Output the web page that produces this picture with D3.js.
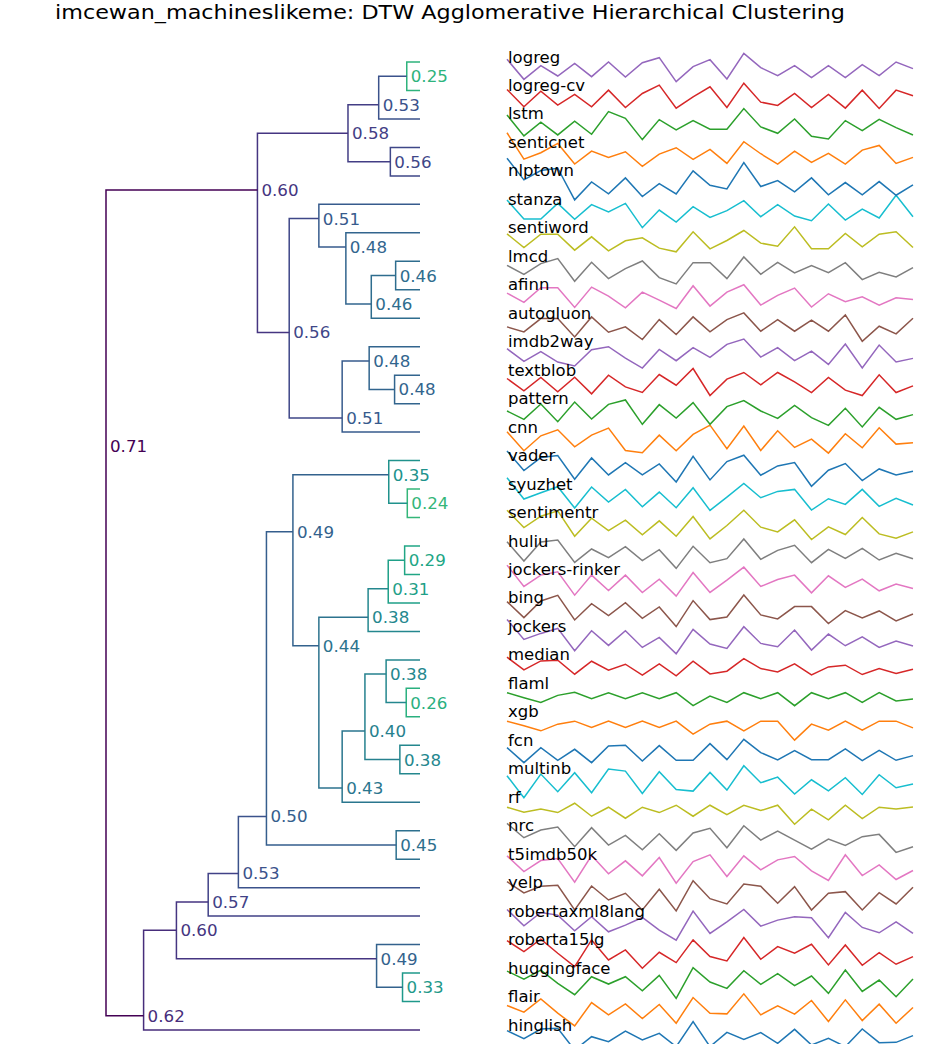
<!DOCTYPE html>
<html><head><meta charset="utf-8">
<script src="https://cdn.jsdelivr.net/npm/d3@7"></script>
<style>body{margin:0;background:#fff} svg{display:block} text{font-family:"DejaVu Sans",sans-serif}</style>
</head><body><svg id="c" width="930" height="1044"></svg>
<script>
const titleText = "imcewan_machineslikeme: DTW Agglomerative Hierarchical Clustering";
const leafNames = ["logreg","logreg-cv","lstm","senticnet","nlptown","stanza","sentiword","lmcd","afinn","autogluon","imdb2way","textblob","pattern","cnn","vader","syuzhet","sentimentr","huliu","jockers-rinker","bing","jockers","median","flaml","xgb","fcn","multinb","rf","nrc","t5imdb50k","yelp","robertaxml8lang","roberta15lg","huggingface","flair","hinglish"];
// linkage: [upper child, lower child, merge distance]; ids >= 35 refer to earlier merges
const merges = [
 [0,1,0.25],[35,2,0.53],[3,4,0.56],[36,37,0.58],[7,8,0.46],[39,9,0.46],[6,40,0.48],[5,41,0.51],
 [11,12,0.48],[10,43,0.48],[44,13,0.51],[42,45,0.56],[38,46,0.60],
 [15,16,0.24],[14,48,0.35],[17,18,0.29],[50,19,0.31],[51,20,0.38],[22,23,0.26],[21,53,0.38],
 [24,25,0.38],[54,55,0.40],[56,26,0.43],[52,57,0.44],[49,58,0.49],[27,28,0.45],[59,60,0.50],
 [61,29,0.53],[62,30,0.57],[32,33,0.33],[31,64,0.49],[63,65,0.60],[66,34,0.62],[47,67,0.71]
];
const s_logreg = [0.23,-0.37,0.04,-0.27,0.11,-0.29,0.15,-0.30,0.13,0.28,-0.44,0.01,0.22,-0.36,0.41,-0.02,-0.26,0.04,-0.32,0.04,-0.32,0.07,-0.26,0.15,-0.05];
const s_logregcv = [0.18,-0.34,0.13,-0.29,0.03,-0.34,0.16,-0.36,0.06,0.31,-0.38,-0.04,0.26,-0.36,0.37,-0.20,-0.30,0.06,-0.36,0.03,-0.38,0.16,-0.39,0.16,-0.01];
const s_lstm = [0.27,-0.36,0.05,-0.33,0.08,-0.31,0.37,0.17,-0.47,0.13,-0.18,0.10,-0.16,-0.16,0.46,-0.09,-0.28,0.15,-0.37,-0.45,0.10,-0.20,0.14,-0.11,-0.33];
const s_senticnet = [0.59,-0.20,-0.01,0.27,-0.35,0.04,-0.15,0.02,-0.42,-0.05,0.14,-0.21,0.09,-0.33,0.32,-0.04,-0.35,0.04,-0.30,-0.03,-0.35,0.07,0.21,-0.33,-0.15];
const s_nlptown = [0.68,0.03,0.31,0.38,-0.57,-0.03,-0.39,0.09,-0.47,-0.08,-0.39,0.30,-0.13,-0.24,0.55,-0.17,0.01,-0.33,0.09,-0.42,-0.05,-0.42,-0.02,-0.43,-0.12];
const s_stanza = [0.28,-0.29,-0.29,0.18,-0.30,0.14,-0.08,0.18,-0.55,-0.02,-0.38,0.08,-0.24,-0.04,0.26,-0.22,0.14,-0.20,-0.34,0.16,-0.32,0.01,-0.26,0.42,-0.22];
const s_sentiword = [0.12,-0.29,0.11,0.11,-0.37,0.03,-0.39,-0.09,0.00,-0.31,-0.42,0.18,-0.33,-0.08,0.22,-0.16,-0.25,0.33,-0.33,-0.33,0.13,-0.27,0.11,0.18,-0.29];
const s_lmcd = [0.03,-0.24,0.08,0.23,-0.45,0.12,-0.37,-0.07,0.16,-0.34,-0.53,0.11,0.11,-0.37,0.28,-0.24,0.12,-0.20,0.02,-0.19,0.11,-0.40,-0.18,-0.32,-0.04];
const s_afinn = [0.05,-0.23,0.21,0.21,-0.38,0.23,-0.04,-0.39,0.08,-0.16,-0.41,0.27,-0.34,0.08,0.30,-0.31,-0.02,0.20,-0.37,0.03,-0.21,-0.06,-0.31,-0.09,-0.14];
const s_autogluon = [-0.11,-0.26,0.14,0.14,-0.41,0.19,-0.27,-0.11,-0.49,0.11,-0.34,0.19,-0.26,0.11,0.31,-0.24,0.11,-0.24,0.09,-0.24,0.25,-0.54,-0.09,-0.32,0.15];
const s_imdb2way = [0.09,-0.29,0.00,-0.31,-0.43,0.06,0.15,-0.19,-0.49,0.07,-0.27,0.12,-0.17,0.22,0.38,-0.16,0.12,-0.27,0.02,-0.38,0.23,-0.49,0.20,-0.31,-0.20];
const s_textblob = [0.05,-0.32,0.08,-0.35,0.09,-0.41,0.15,-0.20,-0.37,0.17,-0.15,0.35,-0.46,0.03,0.23,-0.14,0.23,-0.05,-0.37,0.08,-0.30,-0.46,0.16,-0.37,-0.17];
const s_pattern = [-0.07,-0.32,0.14,-0.39,0.20,-0.31,0.13,0.26,-0.47,0.12,-0.28,0.18,-0.47,0.06,0.24,-0.07,-0.29,0.10,-0.27,-0.50,0.01,-0.55,0.04,-0.32,-0.18];
const s_cnn = [0.16,-0.41,0.04,0.22,-0.29,0.06,0.27,-0.40,-0.47,0.06,-0.41,0.08,0.36,-0.35,0.33,-0.40,0.19,-0.31,-0.06,-0.48,0.10,-0.32,0.28,-0.21,-0.17];
const s_vader = [0.44,-0.15,0.24,0.30,-0.41,0.23,-0.28,0.09,-0.28,0.05,-0.49,0.28,-0.43,0.12,0.31,-0.29,-0.01,0.09,-0.62,-0.14,0.06,-0.45,-0.10,-0.28,-0.17];
const s_syuzhet = [0.49,-0.15,0.04,0.22,-0.42,0.21,-0.24,0.14,-0.38,0.06,-0.41,0.19,-0.49,-0.09,0.32,-0.11,0.08,0.14,-0.48,-0.14,-0.31,0.14,-0.37,-0.13,-0.33];
const s_sentimentr = [0.37,-0.15,0.19,0.35,-0.41,0.13,-0.24,0.07,-0.37,0.05,-0.41,0.18,-0.49,-0.09,0.37,-0.14,-0.28,0.08,-0.51,-0.13,-0.36,0.15,-0.34,-0.47,-0.28];
const s_huliu = [0.28,-0.30,0.27,0.33,-0.34,0.06,-0.20,0.13,-0.29,0.04,-0.52,0.14,-0.35,-0.23,0.36,-0.25,0.02,0.17,-0.35,0.05,-0.22,0.08,-0.27,-0.07,-0.23];
const s_jockersrinker = [0.43,-0.21,0.13,0.23,-0.47,0.13,-0.33,0.13,-0.39,0.01,-0.50,0.21,-0.39,-0.02,0.37,-0.21,0.00,0.13,-0.40,0.11,-0.24,0.01,-0.34,-0.14,-0.27];
const s_bing = [0.19,-0.29,0.21,0.38,-0.36,0.13,-0.23,0.16,-0.31,0.03,-0.56,0.22,-0.35,-0.27,0.39,-0.21,-0.33,0.04,0.04,-0.47,-0.08,-0.30,-0.09,-0.39,-0.18];
const s_jockers = [0.51,-0.09,0.09,0.24,-0.43,0.17,-0.27,0.17,-0.33,-0.03,-0.52,0.21,-0.23,-0.36,0.29,-0.21,-0.31,0.19,-0.41,0.07,-0.28,-0.01,-0.33,-0.14,-0.29];
const s_median = [0.23,-0.15,0.12,0.14,-0.28,0.11,-0.16,0.02,-0.31,0.03,-0.33,0.11,-0.27,-0.19,0.19,-0.11,-0.21,0.03,-0.30,-0.06,-0.01,-0.29,-0.11,-0.26,-0.13];
const s_flaml = [0.02,-0.13,-0.27,-0.06,0.03,-0.16,0.02,-0.16,0.02,-0.16,0.02,-0.37,-0.08,-0.27,0.02,-0.16,0.02,-0.37,0.02,-0.16,0.02,-0.27,0.02,-0.23,-0.17];
const s_xgb = [0.02,-0.12,-0.27,-0.07,0.02,-0.17,0.02,-0.17,0.02,-0.17,0.02,-0.37,-0.07,0.02,-0.27,0.02,0.02,-0.55,-0.07,-0.25,0.02,-0.25,0.02,0.02,-0.18];
const s_fcn = [0.08,-0.37,0.08,-0.30,0.03,-0.37,0.13,0.15,-0.32,0.14,-0.30,-0.30,0.20,-0.28,0.33,-0.07,-0.29,-0.01,-0.28,-0.28,0.04,-0.31,0.00,-0.30,-0.16];
const s_multinb = [0.09,-0.57,0.14,-0.39,0.18,-0.42,0.29,0.23,-0.44,0.21,-0.32,-0.37,0.19,-0.34,0.39,-0.12,0.05,-0.46,-0.03,-0.36,0.03,-0.47,0.12,-0.27,-0.16];
const s_rf = [0.00,-0.15,-0.05,-0.16,0.12,-0.27,0.00,-0.33,0.00,-0.16,0.06,-0.27,0.06,-0.22,0.06,-0.10,0.06,-0.51,-0.06,-0.38,0.06,-0.34,0.00,-0.05,0.01];
const s_nrc = [0.37,-0.06,0.17,0.26,-0.33,0.24,-0.28,0.01,-0.42,0.06,-0.44,0.08,0.22,-0.36,0.30,-0.13,0.14,-0.13,-0.40,-0.10,-0.29,-0.03,0.04,-0.50,-0.33];
const s_t5imdb50k = [0.25,-0.22,0.11,0.17,-0.54,0.26,-0.29,0.10,-0.35,0.20,-0.57,0.08,0.28,-0.37,0.25,-0.17,0.13,0.23,-0.20,-0.49,0.28,-0.34,-0.02,-0.46,-0.19];
const s_yelp = [0.33,-0.01,0.19,0.22,-0.52,0.20,-0.22,-0.02,-0.52,0.10,-0.55,0.36,-0.18,-0.34,0.26,0.19,-0.32,0.18,-0.52,-0.02,0.03,-0.52,0.00,-0.34,0.16];
const s_robertaxml8lang = [0.35,-0.14,0.26,0.18,-0.29,0.13,-0.32,-0.12,0.11,-0.27,-0.57,0.30,-0.37,-0.02,0.35,-0.15,0.03,0.13,0.10,-0.50,0.26,-0.19,-0.35,-0.02,-0.37];
const s_roberta15lg = [0.27,-0.06,0.31,-0.11,-0.51,0.29,-0.31,-0.01,-0.56,-0.08,-0.39,0.29,-0.21,-0.34,0.36,-0.29,0.09,-0.11,0.16,-0.46,0.14,-0.47,-0.09,-0.44,-0.21];
const s_huggingface = [0.21,-0.03,0.24,-0.16,-0.50,0.04,-0.18,0.04,-0.38,0.08,-0.61,0.31,-0.12,-0.31,0.22,-0.19,0.13,-0.23,0.06,-0.46,0.24,-0.40,-0.06,-0.56,-0.03];
const s_flair = [0.03,-0.17,0.23,-0.20,-0.58,0.12,-0.25,0.08,-0.36,0.06,-0.50,0.27,-0.20,-0.22,0.38,-0.25,0.02,-0.23,0.18,-0.45,0.20,-0.42,0.07,-0.50,-0.03];
const s_hinglish = [0.13,-0.11,0.18,0.20,-0.45,-0.05,-0.20,0.12,-0.15,0.05,-0.35,0.40,-0.35,0.08,-0.13,0.07,-0.25,0.17,-0.30,-0.10,-0.35,0.18,-0.23,-0.22,-0.02];
const seriesValues = [s_logreg,s_logregcv,s_lstm,s_senticnet,s_nlptown,s_stanza,s_sentiword,s_lmcd,s_afinn,s_autogluon,s_imdb2way,s_textblob,s_pattern,s_cnn,s_vader,s_syuzhet,s_sentimentr,s_huliu,s_jockersrinker,s_bing,s_jockers,s_median,s_flaml,s_xgb,s_fcn,s_multinb,s_rf,s_nrc,s_t5imdb50k,s_yelp,s_robertaxml8lang,s_roberta15lg,s_huggingface,s_flair,s_hinglish];

const svg = d3.select("#c");
const n = leafNames.length;
const yLeaf = d3.scaleLinear().domain([0, n - 1]).range([62, 1030]);

// build tree
const nodes = leafNames.map((name, i) => ({id: i, leaf: true, last: i, pos: i, h: 0}));
merges.forEach(([a, b, d]) => {
  const A = nodes[a], B = nodes[b];
  nodes.push({leaf: false, A, B, d, h: Math.max(A.h, B.h) + d, last: B.last, pos: A.last + 0.5});
});
const root = nodes[nodes.length - 1];
const maxD = d3.max(merges, m => m[2]);
const xTree = d3.scaleLinear().domain([0, root.h]).range([420, 106]);
const color = d => d3.interpolateViridis(1 - d / maxD);

const gTree = svg.append("g");
const internal = nodes.filter(nd => !nd.leaf);
gTree.selectAll("path").data(internal).join("path")
  .attr("fill", "none")
  .attr("stroke", nd => color(nd.d))
  .attr("stroke-width", 1.5)
  .attr("d", nd => {
    const xn = xTree(nd.h);
    return `M${xTree(nd.A.h)},${yLeaf(nd.A.pos)}H${xn}V${yLeaf(nd.B.pos)}H${xTree(nd.B.h)}`;
  });
gTree.selectAll("text").data(internal).join("text")
  .attr("x", nd => xTree(nd.h) + 4)
  .attr("y", nd => yLeaf(nd.pos))
  .attr("dy", "0.36em")
  .attr("font-size", 16.7)
  .attr("fill", nd => color(nd.d))
  .text(nd => nd.d.toFixed(2));

// sparklines
const nPts = seriesValues[0].length;
const xSpark = d3.scalePoint().domain(d3.range(nPts)).range([507, 913]);
const ySpark = d3.scaleLinear().domain([-1, 1]).range([100 / 3, -100 / 3]);
const tab = d3.schemeCategory10;
const line = d3.line().x((v, j) => xSpark(j)).y(v => ySpark(v));
const gSpark = svg.append("g");
const rows = d3.range(n).reverse();
rows.forEach(i => {
  gSpark.append("path")
    .attr("transform", `translate(0,${yLeaf(i) + 5})`)
    .attr("fill", "none")
    .attr("stroke", tab[((4 - i) % 10 + 10) % 10])
    .attr("stroke-width", 1.5)
    .attr("stroke-linejoin", "miter")
    .attr("d", line(seriesValues[i]));
});
svg.append("g").selectAll("text").data(leafNames).join("text")
  .attr("x", 508)
  .attr("y", (d, i) => yLeaf(i) + 0.5)
  .attr("font-size", 16.5)
  .attr("fill", "#000")
  .text(d => d);

svg.append("text")
  .attr("x", 55).attr("y", 19)
  .attr("font-size", 20)
  .attr("textLength", 790)
  .attr("lengthAdjust", "spacingAndGlyphs")
  .attr("fill", "#000")
  .text(titleText);
</script></body></html>
